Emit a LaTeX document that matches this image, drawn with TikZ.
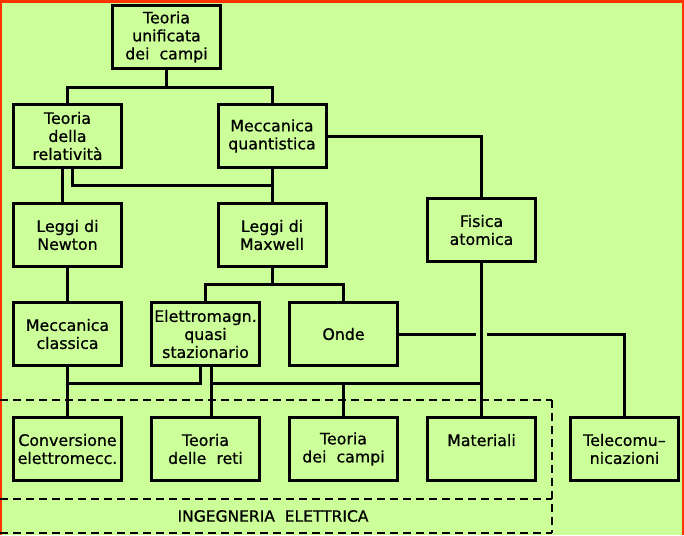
\documentclass[tikz,border=0pt]{standalone}
\usepackage{fontspec}
\setmainfont{DejaVu Sans}[FakeBold=0.7]
\usetikzlibrary{calc}
\definecolor{bgc}{RGB}{204,255,153}
\definecolor{framec}{RGB}{255,51,0}
\begin{document}
\begin{tikzpicture}[x=1pt,y=-1pt,
  box/.style={draw,line width=3pt,minimum width=108pt,minimum height=63pt,align=center,inner sep=0pt,font=\fontsize{15.8}{18}\selectfont},
  conn/.style={line width=3pt},
  dsh/.style={line width=1.3pt,dash pattern=on 8pt off 5pt},
  lbl/.style={font=\fontsize{15.5}{18}\selectfont,inner sep=0pt}]
\fill[bgc] (0,0) rectangle (684,535);
\useasboundingbox (0,0) rectangle (684,535);
\fill[framec] (0,0) rectangle (684,3);
\fill[framec] (0,0) rectangle (1.5,535);
\fill[framec] (682,0) rectangle (684,535);

% dashed region
\draw[dsh] (0,400) -- (552,400);
\draw[dsh] (0,499) -- (552,499);
\draw[dsh] (0,533) -- (552,533);
\draw[dsh] (552,400) -- (552,533);
\node[lbl] (ing) at (273,516) {INGEGNERIA\ \ ELETTRICA};

% boxes
\node[box] (top) at (166.5,37) {Teoria\\unificata\\dei\ \ campi};
\node[box] (rel) at (67.5,136) {Teoria\\della\\relatività};
\node[box] (mq) at (272,136) {Meccanica\\quantistica};
\node[box] (newton) at (67.5,235) {Leggi di\\Newton};
\node[box] (maxwell) at (272,235) {Leggi di\\Maxwell};
\node[box] (fisica) at (481.5,230) {Fisica\\atomica};
\node[box] (mclass) at (67.5,334) {Meccanica\\classica};
\node[box] (elettro) at (205.5,334) {Elettromagn.\\quasi\\stazionario};
\node[box] (onde) at (343.5,334) {Onde};
\node[box] (conv) at (67.5,449) {Conversione\\elettromecc.};
\node[box] (reti) at (205.5,449) {Teoria\\delle\ \ reti};
\node[box] (campi) at (343.5,449) {Teoria\\dei\ \ campi};
\node[box] (mat) at (481.5,449) {Materiali\\\mbox{}};
\node[box] (tele) at (624.5,449) {Telecomu--\\nicazioni};

% connectors
\coordinate (j1) at (166.5,87);
\draw[conn] (top.south) -- (j1);
\draw[conn] (rel.north) |- (j1) -| (mq.north);
\draw[conn] ([xshift=-5.5pt]rel.south) -- ([xshift=-5.5pt]newton.north);
\coordinate (j2) at (272,185);
\draw[conn] ([xshift=4.5pt]rel.south) |- (j2);
\draw[conn] (mq.south) -- (maxwell.north);
\draw[conn] (mq.east) -| (fisica.north);
\draw[conn] (fisica.south) -- (mat.north);
\draw[conn] (newton.south) -- (mclass.north);
\coordinate (j3) at (272,284.5);
\draw[conn] (maxwell.south) -- (j3);
\draw[conn] (elettro.north) |- (j3) -| (onde.north);
\coordinate (j4) at (67.5,383.5);
\draw[conn] (mclass.south) -- (conv.north);
\draw[conn] ([xshift=-5.5pt]elettro.south) |- (j4);
\coordinate (j5) at (481.5,383.5);
\draw[conn] ([xshift=5.5pt]elettro.south) -- ([xshift=5.5pt]reti.north);
\draw[conn] ($(elettro.south)+(5.5,0)$) |- (j5);
\draw[conn] (campi.north) -- (campi.north |- j5);
\draw[conn] (onde.east) -- ($(onde.east -| fisica.south)+(-5.5,0)$);
\draw[conn] ($(onde.east -| fisica.south)+(5,0)$) -| (tele.north);
\end{tikzpicture}
\end{document}
